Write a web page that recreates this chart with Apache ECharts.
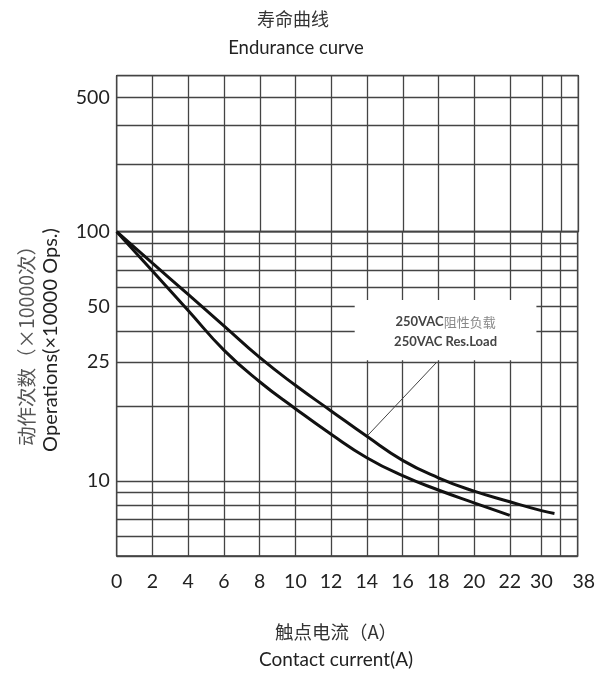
<!DOCTYPE html>
<html><head><meta charset="utf-8">
<script src="https://cdn.jsdelivr.net/npm/echarts@6/dist/echarts.min.js"></script>
<style>html,body{margin:0;padding:0;background:#fff}#c{width:598px;height:674px}</style>
</head><body><div id="c"></div>
<script>
// ---- texts ----
const titleCn = '寿命曲线';
const titleEn = 'Endurance curve';
const xTitleCn = '触点电流（A）';
const xTitleEn = 'Contact current(A)';
const yTitleCn = '动作次数（×10000次）';
const yTitleEn = 'Operations(×10000 Ops.)';
const noteVolt = '250VAC';
const noteCn = '阻性负载';
const noteEn = '250VAC Res.Load';

// ---- x axis (drawing positions: 0–22 A linear, then 30 and 38 A squeezed as in the source) ----
const xGridPos = [0, 2, 4, 6, 8, 10, 12, 14, 16, 18, 20, 22, 23.77, 24.83, 25.8];
const xLabelPos = [0, 2, 4, 6, 8, 10, 12, 14, 16, 18, 20, 22, 23.77, 25.8];
const xLabelText = ['0', '2', '4', '6', '8', '10', '12', '14', '16', '18', '20', '22', '30', '38'];

// ---- y axis (log, lower part 5–100, upper part 100–500) ----
const yLowGrid = [5, 6, 7, 8, 9, 10, 20, 30, 40, 50, 60, 70, 80, 90, 100];
const yLowLabelPos = [10, 30, 50, 100];
const yLowLabelText = ['10', '25', '50', '100'];
const yHighGrid = [100, 200, 300, 400, 500];
const yHighLabelPos = [400];
const yHighLabelText = ['500'];

// ---- curves (x position, operations ×10000) ----
const curveAX = [0, 2, 4, 6, 8, 10, 12, 14, 16, 18, 20, 22, 23.77, 24.5];
const curveAY = [100, 74.8, 56, 41.9, 31.3, 24.2, 19.1, 15.1, 12.1, 10.3, 9.1, 8.25, 7.6, 7.4];
const curveBX = [0, 2, 4, 6, 8, 10, 12, 14, 16, 18, 20, 22];
const curveBY = [100, 69.5, 48.3, 33.5, 25, 19.5, 15.4, 12.4, 10.5, 9.2, 8.17, 7.28];

// ---- annotation ----
const noteBox = [[13.32, 30.5], [23.49, 53.2]];
const leader = [[14, 15.1], [17.92, 30]];

const FONT = 'Lato';
const GRID_COLOR = '#444';

function lookup(pos, text) {
  return function (v) {
    for (let i = 0; i < pos.length; i++) {
      if (Math.abs(pos[i] - v) <= Math.abs(pos[i]) * 1e-3 + 1e-6) return text[i];
    }
    return '';
  };
}

const labelStyle = { fontFamily: FONT, fontSize: 19.5, color: '#222' };

function xAxisCfg(gridIndex, showLabel) {
  return {
    type: 'value', gridIndex: gridIndex, min: 0, max: 25.8,
    axisLine: { show: false },
    axisTick: { show: false, customValues: xGridPos },
    splitLine: { show: true, lineStyle: { color: GRID_COLOR, width: 1.3 } },
    axisLabel: showLabel ? Object.assign({
      show: true, margin: 16, customValues: xLabelPos,
      formatter: function (v) {
        const t = lookup(xLabelPos, xLabelText)(v);
        return t === '38' ? '{r|' + t + '}' : t;
      },
      rich: { r: { fontFamily: FONT, fontSize: 19.5, color: '#222', padding: [0, 0, 0, 12] } }
    }, labelStyle) : { show: false }
  };
}

function yAxisCfg(gridIndex, min, max, grid, lpos, ltext) {
  return {
    type: 'log', logBase: 10, gridIndex: gridIndex, min: min, max: max,
    axisLine: { show: false },
    axisTick: { show: false, customValues: grid },
    splitLine: { show: true, lineStyle: { color: GRID_COLOR, width: 1.3 } },
    axisLabel: Object.assign({ show: true, margin: 7, customValues: lpos, formatter: lookup(lpos, ltext) }, labelStyle)
  };
}

const chart = echarts.init(document.getElementById('c'), null, { renderer: 'canvas' });
chart.setOption({
  animation: false,
  backgroundColor: '#fff',
  grid: [
    { left: 116.7, right: 19.7, top: 231.7, bottom: 118, show: true, borderColor: '#333', borderWidth: 1.3, containLabel: false },
    { left: 116.7, right: 19.7, top: 75.7, height: 156, show: true, borderColor: '#333', borderWidth: 1.3, containLabel: false }
  ],
  xAxis: [xAxisCfg(0, true), xAxisCfg(1, false)],
  yAxis: [
    yAxisCfg(0, 5, 100, yLowGrid, yLowLabelPos, yLowLabelText),
    yAxisCfg(1, 100, 500, yHighGrid, yHighLabelPos, yHighLabelText)
  ],
  series: [
    {
      type: 'line', xAxisIndex: 0, yAxisIndex: 0, name: 'A',
      data: curveAX.map((x, i) => [x, curveAY[i]]),
      smooth: 0.5, showSymbol: false, symbol: 'none',
      lineStyle: { color: '#111', width: 3 }, z: 5,
      emphasis: { disabled: true }, silent: true,
      markArea: {
        silent: true,
        itemStyle: { color: '#fff', borderWidth: 0 },
        label: {
          show: true, position: 'inside', offset: [0, 2],
          formatter: '{b|' + noteVolt + '}{c|' + noteCn + '}\n{b|' + noteEn + '}',
          rich: {
            b: { fontFamily: FONT, fontSize: 13, fontWeight: 'bold', color: '#444', lineHeight: 20 },
            c: { fontFamily: 'Noto Sans CJK SC', fontSize: 13, color: '#888', lineHeight: 20 }
          }
        },
        data: [[{ coord: noteBox[0] }, { coord: noteBox[1] }]]
      },
      markLine: {
        silent: true, symbol: ['none', 'none'],
        lineStyle: { color: '#444', width: 1, type: 'solid' },
        label: { show: false },
        data: [[{ coord: leader[0] }, { coord: leader[1] }]]
      }
    },
    {
      type: 'line', xAxisIndex: 0, yAxisIndex: 0, name: 'B',
      data: curveBX.map((x, i) => [x, curveBY[i]]),
      smooth: 0.5, showSymbol: false, symbol: 'none',
      lineStyle: { color: '#111', width: 3 }, z: 5,
      emphasis: { disabled: true }, silent: true
    }
  ],
  graphic: [
    { type: 'text', x: 293, y: 19, style: { text: titleCn, font: '18px "Noto Sans CJK SC"', fill: '#333', textAlign: 'center', textVerticalAlign: 'middle' } },
    { type: 'text', x: 296, y: 48.5, style: { text: titleEn, font: '18.5px Lato', fill: '#222', textAlign: 'center', textVerticalAlign: 'middle' } },
    { type: 'text', x: 336, y: 632, style: { text: xTitleCn, font: '18.5px "Noto Sans CJK SC"', fill: '#333', textAlign: 'center', textVerticalAlign: 'middle' } },
    { type: 'text', x: 336, y: 660, style: { text: xTitleEn, font: '19px Lato', fill: '#222', textAlign: 'center', textVerticalAlign: 'middle' } },
    { type: 'text', x: 27, y: 341, rotation: Math.PI / 2, style: { text: yTitleCn, font: '19.5px "Noto Sans CJK SC"', fill: '#555', textAlign: 'center', textVerticalAlign: 'middle' } },
    { type: 'text', x: 51, y: 340, rotation: Math.PI / 2, style: { text: yTitleEn, font: '20px Lato', fill: '#222', textAlign: 'center', textVerticalAlign: 'middle' } }
  ]
});
</script>
</body></html>
